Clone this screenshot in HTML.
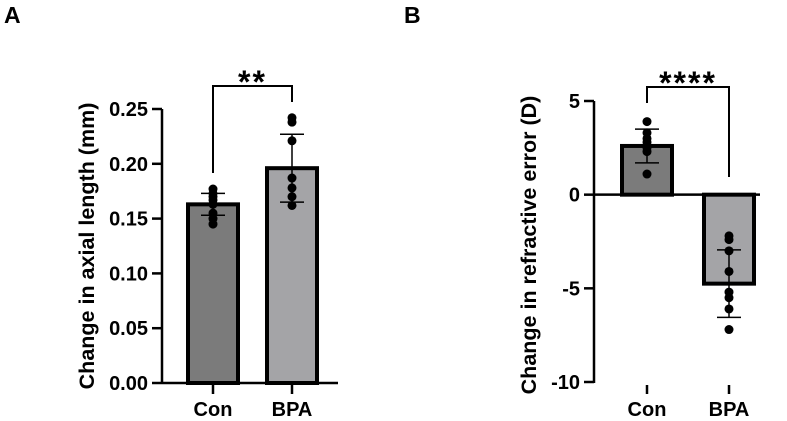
<!DOCTYPE html>
<html><head><meta charset="utf-8"><style>
body{margin:0;background:#fff;}
svg{display:block;font-family:"Liberation Sans",Arial,sans-serif;font-weight:bold;}
</style></head><body>
<svg id="chart" width="787" height="421" viewBox="0 0 787 421" xmlns="http://www.w3.org/2000/svg">
<text x="4" y="23" font-size="23">A</text>
<text x="404" y="23" font-size="23">B</text>
<g id="pa"></g>
<g id="pb"></g>
</svg>
<script>
const categories = ["Con","BPA"];
const aMeans = [0.163, 0.196];
const aSD = [0.010, 0.031];
const aPoints = [[0.177,0.173,0.170,0.167,0.163,0.155,0.150,0.145],[0.242,0.238,0.221,0.187,0.178,0.170,0.162]];
const aTicks = [0,0.05,0.10,0.15,0.20,0.25];
const aTickLabels = ["0.00","0.05","0.10","0.15","0.20","0.25"];
const aSig = "**";
const bMeans = [2.6, -4.75];
const bSD = [0.9, 1.8];
const bPoints = [[3.9,3.3,3.0,2.8,2.5,2.3,1.1],[-2.2,-2.4,-3.0,-4.1,-5.2,-5.5,-6.1,-7.2]];
const bTicks = [-10,-5,0,5];
const bTickLabels = ["-10","-5","0","5"];
const bSig = "****";
const colors = ["#7b7b7b","#a4a4a7"];
const NS="http://www.w3.org/2000/svg";
function mk(p,tag,at,txt){const e=document.createElementNS(NS,tag);for(const k in at)e.setAttribute(k,at[k]);if(txt!==undefined)e.textContent=txt;p.appendChild(e);return e;}
function draw(g,cfg){
  const y=v=>cfg.y0+(v-cfg.vmin)*(cfg.y1-cfg.y0)/(cfg.vmax-cfg.vmin);
  const x0=cfg.ax;
  let e=mk(g,"line",{x1:x0,x2:x0,y1:y(cfg.vmin)+1,y2:y(cfg.vmax),stroke:"#000","stroke-width":2.5});
  
  cfg.ticks.forEach((t,i)=>{
    e=mk(g,"line",{x1:x0-10,x2:x0,y1:y(t),y2:y(t),stroke:"#000","stroke-width":2.5});
    
    e=mk(g,"text",{x:x0-14,y:y(t)+7,"font-size":20,"text-anchor":"end"},cfg.tickLabels[i]);
    
  });
  const baseY=y(cfg.base);
  e=mk(g,"line",{x1:x0,x2:cfg.axEnd,y1:baseY,y2:baseY,stroke:"#000","stroke-width":2.5});
  
  e=mk(g,"text",{transform:`translate(${cfg.titleX},${cfg.titleY}) rotate(-90)`,"font-size":21.5,"text-anchor":"middle"},cfg.title);
  
  categories.forEach((c,i)=>{
    const cx=cfg.cx[i],w=cfg.bw;
    const top=Math.min(y(cfg.means[i]),baseY),h=Math.abs(y(cfg.means[i])-baseY);
    e=mk(g,"rect",{x:cx-w/2,y:top,width:w,height:h,fill:colors[i],stroke:"#000","stroke-width":4});
    
    e=mk(g,"line",{x1:cx,x2:cx,y1:cfg.xTickY,y2:cfg.xTickY+9,stroke:"#000","stroke-width":2.5});
    
    e=mk(g,"text",{x:cx,y:cfg.labelY,"font-size":20,"text-anchor":"middle"},c);
    
    cfg.points[i].forEach(v=>{
      e=mk(g,"circle",{cx:cx,cy:y(v),r:4.5,fill:"#000"});
      
    });
    const hi=cfg.means[i]+cfg.sd[i],lo=cfg.means[i]-cfg.sd[i];
    e=mk(g,"line",{x1:cx,x2:cx,y1:y(hi),y2:y(lo),stroke:"#000","stroke-width":1.5});
    
    [hi,lo].forEach(v=>{e=mk(g,"line",{x1:cx-12,x2:cx+12,y1:y(v),y2:y(v),stroke:"#000","stroke-width":1.5});
      });
  });
  e=mk(g,"path",{d:`M${cfg.cx[0]},${cfg.brL} V${cfg.brTop} H${cfg.cx[1]} V${cfg.brR}`,fill:"none",stroke:"#000","stroke-width":2});
  
  e=mk(g,"text",{x:(cfg.cx[0]+cfg.cx[1])/2,y:cfg.brTop+7,"font-size":32,"text-anchor":"middle","letter-spacing":"2"},cfg.sig);
  
}
draw(document.getElementById('pa'),{vmin:0,vmax:0.25,y0:383,y1:109,ax:162,axEnd:338,base:0,ticks:aTicks,tickLabels:aTickLabels,
  means:aMeans,sd:aSD,points:aPoints,cx:[213,292],bw:50,xTickY:385,labelY:416,title:"Change in axial length (mm)",titleX:94,titleY:246,
  brL:173,brR:102,brTop:86,sig:aSig});
draw(document.getElementById('pb'),{vmin:-10,vmax:5,y0:382,y1:101,ax:594,axEnd:760,base:0,ticks:bTicks,tickLabels:bTickLabels,
  means:bMeans,sd:bSD,points:bPoints,cx:[647,729],bw:50,xTickY:385,labelY:416,title:"Change in refractive error (D)",titleX:536,titleY:245,
  brL:103,brR:177,brTop:87,sig:bSig});
</script>
</body></html>
